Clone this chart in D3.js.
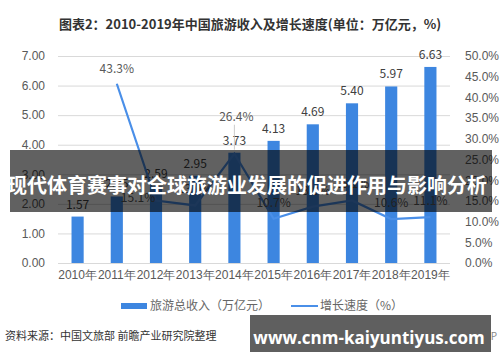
<!DOCTYPE html>
<html><head><meta charset="utf-8">
<script src="https://cdn.jsdelivr.net/npm/d3@7"></script>
<style>
body{margin:0;background:#fff;}
svg{display:block;font-family:"Noto Sans CJK SC","Noto Sans",sans-serif;}
</style></head>
<body>
<svg id="c" width="500" height="362"></svg>
<script>
const years = ["2010年","2011年","2012年","2013年","2014年","2015年","2016年","2017年","2018年","2019年"];
const revenue = [1.57,2.25,2.59,2.95,3.73,4.13,4.69,5.40,5.97,6.63];
const growth = [null,43.3,15.1,13.9,26.4,10.7,13.6,15.1,10.6,11.1];
const leftTicks = [0,1,2,3,4,5,6,7];
const rightTicks = [0,5,10,15,20,25,30,35,40,45,50];
const title = "图表2：2010-2019年中国旅游收入及增长速度(单位：万亿元，%)";
const legendNames = ["旅游总收入（万亿元）","增长速度（%）"];
const source = "资料来源：中国文旅部 前瞻产业研究院整理";
const banner = "现代体育赛事对全球旅游业发展的促进作用与影响分析";
const footer = "www.cnm-kaiyuntiyus.com";

const svg = d3.select("#c");
const L = 58, R = 450, T = 56, B = 263;
const x = d3.scaleBand().domain(years).range([L, R]).paddingInner(0.69).paddingOuter(0.345);
const yL = d3.scaleLinear().domain([0,7]).range([B, T]);
const yR = d3.scaleLinear().domain([0,50]).range([B, T]);
const barC = "#3d86e0", lineC = "#4a8fe8", txt = "#595959";

svg.append("text").attr("x",250).attr("y",29).attr("text-anchor","middle")
  .attr("font-size",13).attr("font-weight","bold").attr("fill","#333").text(title);

// grid
svg.append("g").selectAll("line").data(leftTicks).join("line")
  .attr("x1",L).attr("x2",R).attr("y1",d=>yL(d)+0.5).attr("y2",d=>yL(d)+0.5)
  .attr("stroke","#d9d9d9").attr("stroke-width",1);

// left axis
const ga = svg.append("g").attr("transform",`translate(${L-10},0)`)
  .call(d3.axisLeft(yL).tickValues(leftTicks).tickFormat(d3.format(".2f")).tickSize(0));
ga.select(".domain").remove();
ga.selectAll("text").attr("font-size",12).attr("fill",txt).attr("font-family","inherit");
// right axis
const gr = svg.append("g").attr("transform",`translate(${R+12},0)`)
  .call(d3.axisRight(yR).tickValues(rightTicks).tickFormat(d=>d.toFixed(1)+"%").tickSize(0));
gr.select(".domain").remove();
gr.selectAll("text").attr("font-size",12).attr("fill",txt).attr("font-family","inherit");
// x axis
const gx = svg.append("g").attr("transform",`translate(0,${B+4})`)
  .call(d3.axisBottom(x).tickSize(0));
gx.select(".domain").remove();
gx.selectAll("text").attr("font-size",12).attr("fill",txt).attr("font-family","inherit");

// bars
svg.append("g").selectAll("rect").data(revenue).join("rect")
  .attr("x",(d,i)=>x(years[i])).attr("width",x.bandwidth())
  .attr("y",d=>yL(d)).attr("height",d=>B-yL(d)).attr("fill",barC);
svg.append("g").selectAll("text").data(revenue).join("text")
  .attr("x",(d,i)=>x(years[i])+x.bandwidth()/2).attr("y",d=>yL(d)-8)
  .attr("text-anchor","middle").attr("font-size",12).attr("fill","#404040")
  .text(d=>d.toFixed(2));

// line
const pts = growth.map((g,i)=>g==null?null:[x(years[i])+x.bandwidth()/2, yR(g)]).filter(p=>p);
const gl = growth.map((g,i)=>({g,i})).filter(d=>d.g!=null);
svg.append("path").datum(gl)
  .attr("d",d3.line().x(d=>x(years[d.i])+x.bandwidth()/2).y(d=>yR(d.g)))
  .attr("fill","none").attr("stroke",lineC).attr("stroke-width",2.2);
// label offsets (style)
const lblOff = {1:[0,-11],2:[-18,2],4:[2,-33],5:[0,-12],8:[0,-12],9:[0,-12],3:[0,-12],6:[0,-12],7:[0,-12]};
// leader for 2014
{
  const d = gl.find(v=>v.i===4);
  const cx = x(years[4])+x.bandwidth()/2;
  svg.append("line").attr("x1",cx).attr("x2",cx).attr("y1",yR(d.g)-29).attr("y2",yR(d.g)-4)
    .attr("stroke","#bfbfbf").attr("stroke-width",0.8);
}
svg.append("g").selectAll("text").data(gl).join("text")
  .attr("x",d=>x(years[d.i])+x.bandwidth()/2+lblOff[d.i][0])
  .attr("y",d=>yR(d.g)+lblOff[d.i][1])
  .attr("text-anchor","middle").attr("font-size",12).attr("fill","#595959")
  .text(d=>d.g.toFixed(1)+"%");

// legend
svg.append("rect").attr("x",121).attr("y",303).attr("width",26).attr("height",6).attr("fill",barC);
svg.append("text").attr("x",150).attr("y",310).attr("font-size",12).attr("fill","#666").text(legendNames[0]);
svg.append("line").attr("x1",291).attr("x2",318).attr("y1",306).attr("y2",306).attr("stroke",lineC).attr("stroke-width",2);
svg.append("text").attr("x",320).attr("y",310).attr("font-size",12).attr("fill","#666").text(legendNames[1]);

// source
svg.append("text").attr("x",5).attr("y",340).attr("font-size",11).attr("fill","#333").text(source);
svg.append("text").attr("x",497).attr("y",340).attr("text-anchor","end").attr("font-size",10).attr("fill","#888").text("@前瞻经济学人APP");

// overlays
svg.append("rect").attr("x",10).attr("y",150).attr("width",482).attr("height",62).attr("fill","rgba(0,0,0,0.62)");
svg.append("text").attr("x",247).attr("y",193).attr("text-anchor","middle").attr("font-size",20)
  .attr("font-weight","bold").attr("fill","#fff").text(banner);
svg.append("rect").attr("x",250).attr("y",315).attr("width",241).attr("height",37).attr("fill","#5f5f5f");
svg.append("text").attr("x",369).attr("y",344).attr("text-anchor","middle").attr("font-size",17)
  .attr("font-weight","bold").attr("fill","#fff").attr("font-family","'Open Sans','Noto Sans',sans-serif").text(footer);
</script>
</body></html>
